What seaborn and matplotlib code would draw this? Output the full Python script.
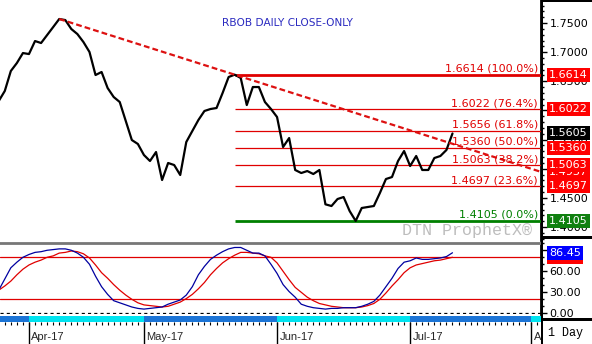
import numpy as np
import pandas as pd
import matplotlib
matplotlib.use("Agg")
import matplotlib.pyplot as plt
import matplotlib.transforms as mtransforms
from matplotlib.ticker import MultipleLocator, FormatStrFormatter
from matplotlib.patches import Rectangle
import seaborn as sns

# ---------------- data ----------------
start_date = "2017-03-27"
axis_end_date = "2017-08-04"
holidays = ["2017-04-14", "2017-05-29", "2017-07-04"]

closes = [1.6162, 1.6334, 1.6677, 1.6814, 1.6985, 1.6968, 1.7191, 1.7157, 1.7294, 1.7431,
          1.7569, 1.7551, 1.7397, 1.7311, 1.7174, 1.7003, 1.6608, 1.6660, 1.6385, 1.6231,
          1.6145, 1.5819, 1.5493, 1.5425, 1.5236, 1.5133, 1.5287, 1.4807, 1.5099, 1.5064,
          1.4893, 1.5459, 1.5648, 1.5836, 1.5991, 1.6025, 1.6042, 1.6299, 1.6574, 1.6614,
          1.6557, 1.6093, 1.6402, 1.6402, 1.6145, 1.6025, 1.5888, 1.5373, 1.5527, 1.4979,
          1.4927, 1.4961, 1.4910, 1.4979, 1.4390, 1.4361, 1.4481, 1.4515, 1.4275, 1.4105,
          1.4327, 1.4344, 1.4361, 1.4584, 1.4824, 1.4858, 1.5133, 1.5304, 1.5047, 1.5219,
          1.4979, 1.4979, 1.5184, 1.5219, 1.5322, 1.5605]

stoch_k = [33, 49, 65, 73, 80, 84, 87, 88, 90, 91, 92, 92, 90, 86, 80, 70, 53, 38, 27, 18,
           15, 12, 9, 7, 6, 7, 8, 9, 13, 16, 19, 26, 38, 55, 67, 77, 83, 88, 92, 94,
           94, 90, 86, 86, 82, 70, 57, 41, 31, 23, 13, 10, 8, 7, 6, 7, 7, 8, 8, 8,
           10, 13, 17, 26, 38, 50, 64, 73, 75, 79, 77, 77, 78, 79, 81, 86.45]

stoch_d = [33, 39, 46, 55, 63, 69, 73, 76, 80, 82, 86, 87, 89, 88, 85, 79, 69, 58, 50, 41,
           33, 26, 20, 15, 12, 11, 10, 9, 10, 13, 16, 21, 27, 35, 44, 55, 64, 72, 78, 83,
           87, 87, 86, 85, 82, 80, 72, 60, 48, 37, 30, 23, 18, 14, 12, 10, 9, 8, 8, 8,
           9, 11, 14, 20, 29, 39, 48, 58, 65, 69, 71, 73, 75, 76, 78, 80]

fib_levels = [1.6614, 1.6022, 1.5656, 1.5360, 1.5063, 1.4697, 1.4105]
fib_pcts = [100.0, 76.4, 61.8, 50.0, 38.2, 23.6, 0.0]

tag_values = [1.4937, 1.6614, 1.6022, 1.5360, 1.5063, 1.4697, 1.4105, 1.5605]
tag_kinds = ["red", "red", "red", "red", "red", "red", "green", "black"]

title_text = "RBOB DAILY CLOSE-ONLY"
watermark = "DTN ProphetX\u00ae"
period_text = "1 Day"

# ---------------- setup ----------------
sns.set_style("white")
plt.rcParams["font.family"] = ["DejaVu Sans"]

W, H = 592, 344
fig = plt.figure(figsize=(W / 100, H / 100), dpi=100)
fig.patch.set_facecolor("white")


def pxax(x0, y0, x1, y1):
    return fig.add_axes([x0 / W, 1 - y1 / H, (x1 - x0) / W, (y1 - y0) / H])


ax_top = pxax(0, 0, 541, 240)
ax_bot = pxax(0, 243, 541, 314)
ax_band = pxax(0, 316, 541, 322)
ax_lab = pxax(0, 322, 541, 344)

dates = pd.bdate_range(start_date, axis_end_date, freq="C", holidays=holidays)
n = len(closes)
df = pd.DataFrame({"p": np.arange(n), "close": closes, "k": stoch_k, "d": stoch_d})
month_pos = [i for i in range(1, len(dates)) if dates[i].month != dates[i - 1].month]
month_lbl = [dates[i].strftime("%b-%y") for i in month_pos]

XMIN, XMAX = 0.21, 89.63
RED = "#e00000"
GREEN = "#008000"
tag_colors = {"red": "#ff0000", "green": "#108010", "black": "#000000"}

# ---------------- top panel ----------------
ax = ax_top
sns.lineplot(data=df, x="p", y="close", ax=ax, color="black", linewidth=1.6,
             estimator=None, sort=False, zorder=4)
ax.set_xlim(XMIN, XMAX)
ax.set_ylim(1.3778, 1.7895)

p_hi = int(np.argmax(closes))
p_fib = int(np.argmin(np.abs(np.array(closes[p_hi + 5:]) - fib_levels[0]))) + p_hi + 5
slope = (closes[p_fib] - closes[p_hi]) / (p_fib - p_hi)
ax.plot([p_hi, XMAX], [closes[p_hi], closes[p_fib] + slope * (XMAX - p_fib)],
        color="#dd1111", lw=1.6, dashes=(2.6, 1.4), zorder=5)

blend = mtransforms.blended_transform_factory(ax.transAxes, ax.transData)
lab_tr = mtransforms.offset_copy(blend, fig=fig, y=6, units="dots")
for lv, pc in zip(fib_levels, fib_pcts):
    col = GREEN if pc == 0.0 else RED
    lw = 2 if pc in (0.0, 100.0) else 0.9
    ax.hlines(lv, p_fib, XMAX, color=col, lw=lw, zorder=3)
    ax.text(538 / 541, lv, f"{lv:.4f} ({pc:.1f}%)", transform=lab_tr, color=col,
            fontsize=8, ha="right", va="center", zorder=6)

ax.text(222 / 541, 1 - 23 / 240, title_text, transform=ax.transAxes, color="#2b2bc0",
        fontsize=7.6, ha="left", va="center")

for s in ["top", "left", "bottom"]:
    ax.spines[s].set_visible(False)
ax.spines["right"].set_color("black")
ax.spines["right"].set_linewidth(2)
ax.yaxis.tick_right()
ax.yaxis.set_major_locator(MultipleLocator(0.05))
ax.yaxis.set_minor_locator(MultipleLocator(0.01))
ax.yaxis.set_major_formatter(FormatStrFormatter("%.4f"))
ax.tick_params(axis="y", which="major", right=True, length=4, width=1, color="black",
               labelsize=8, pad=2, labelcolor="black", direction="out")
ax.tick_params(axis="y", which="minor", right=True, length=2, width=1, color="black")
ax.set_xticks([])
ax.set_xlabel("")
ax.set_ylabel("")

for v, kind in zip(tag_values, tag_kinds):
    ax.text(549 / 541, v, f"{v:.4f}", transform=blend, color="white", fontsize=8,
            ha="left", va="center", clip_on=False, zorder=7,
            bbox=dict(boxstyle="square,pad=0.18", fc=tag_colors[kind], ec="none"))

# ---------------- stochastic panel ----------------
ax = ax_bot
ax.axhline(80, color=RED, lw=0.9, zorder=2)
ax.axhline(20, color=RED, lw=0.9, zorder=2)
ax.axhline(0, color="black", lw=0.9, dashes=(2.5, 2.5), zorder=2)
sns.lineplot(data=df, x="p", y="d", ax=ax, color="#e00000", linewidth=0.9,
             estimator=None, sort=False, zorder=3)
sns.lineplot(data=df, x="p", y="k", ax=ax, color="#0000a0", linewidth=0.9,
             estimator=None, sort=False, zorder=4)
ax.set_xlim(XMIN, XMAX)
ax.set_ylim(-1, 100.4)
for s in ["left", "bottom"]:
    ax.spines[s].set_visible(False)
ax.spines["top"].set_color("#777777")
ax.spines["top"].set_linewidth(2)
ax.spines["right"].set_color("black")
ax.spines["right"].set_linewidth(2)
ax.yaxis.tick_right()
ax.yaxis.set_major_locator(MultipleLocator(30))
ax.yaxis.set_minor_locator(MultipleLocator(10))
ax.yaxis.set_major_formatter(FormatStrFormatter("%.2f"))
ax.tick_params(axis="y", which="major", right=True, length=4, width=1, color="black",
               labelsize=8, pad=2, labelcolor="black", direction="out")
ax.tick_params(axis="y", which="minor", right=True, length=2, width=1, color="black")
ax.set_xticks([])
ax.set_xlabel("")
ax.set_ylabel("")
bblend = mtransforms.blended_transform_factory(ax.transAxes, ax.transData)
ax.text(549 / 541, stoch_d[-1], f"{stoch_d[-1]:.2f}", transform=bblend, color="white",
        fontsize=8, ha="left", va="center", clip_on=False, zorder=7,
        bbox=dict(boxstyle="square,pad=0.18", fc="#ff0000", ec="none"))
ax.text(549 / 541, stoch_k[-1], f"{stoch_k[-1]:.2f}", transform=bblend, color="white",
        fontsize=8, ha="left", va="center", clip_on=False, zorder=8,
        bbox=dict(boxstyle="square,pad=0.18", fc="#0000ff", ec="none"))

# ---------------- month band ----------------
ax = ax_band
bounds = [XMIN] + month_pos + [XMAX]
for j in range(len(bounds) - 1):
    ax.axvspan(bounds[j], bounds[j + 1], color="#1c74d6" if j % 2 == 0 else "#00e4f0", lw=0)
ax.set_xlim(XMIN, XMAX)
ax.set_ylim(0, 1)
ax.axis("off")

# ---------------- date labels ----------------
ax = ax_lab
ax.set_xlim(XMIN, XMAX)
ax.set_ylim(0, 1)
ax.axis("off")
ax.vlines(np.arange(len(dates)), 1 - 3 / 22, 1, color="black", lw=0.8)
ax.vlines(month_pos, 0, 1, color="black", lw=1)
for p, lbl in zip(month_pos, month_lbl):
    ax.text(p + 0.4, 0.32, lbl, fontsize=8, fontfamily="Liberation Sans",
            ha="left", va="center", clip_on=True)

# ---------------- frame pieces on the right ----------------
def fig_rect(x0, y0, x1, y1, color):
    fig.add_artist(Rectangle((x0 / W, 1 - y1 / H), (x1 - x0) / W, (y1 - y0) / H,
                             transform=fig.transFigure, color=color, lw=0, zorder=10))


fig_rect(541, 0, 592, 2, "black")
fig_rect(541, 236, 592, 239, "black")
fig_rect(541, 318, 592, 321, "black")
fig_rect(540.5, 0, 542.5, 344, "black")

fig.text(402 / W, 1 - 231 / H, watermark, fontfamily="Liberation Mono", fontsize=12,
         color="#bdbdbd", ha="left", va="center")
fig.text(548 / W, 1 - 333 / H, period_text, fontfamily="Liberation Mono", fontsize=8.5,
         color="black", ha="left", va="center")

fig.savefig("out.png", dpi=100, facecolor="white")
